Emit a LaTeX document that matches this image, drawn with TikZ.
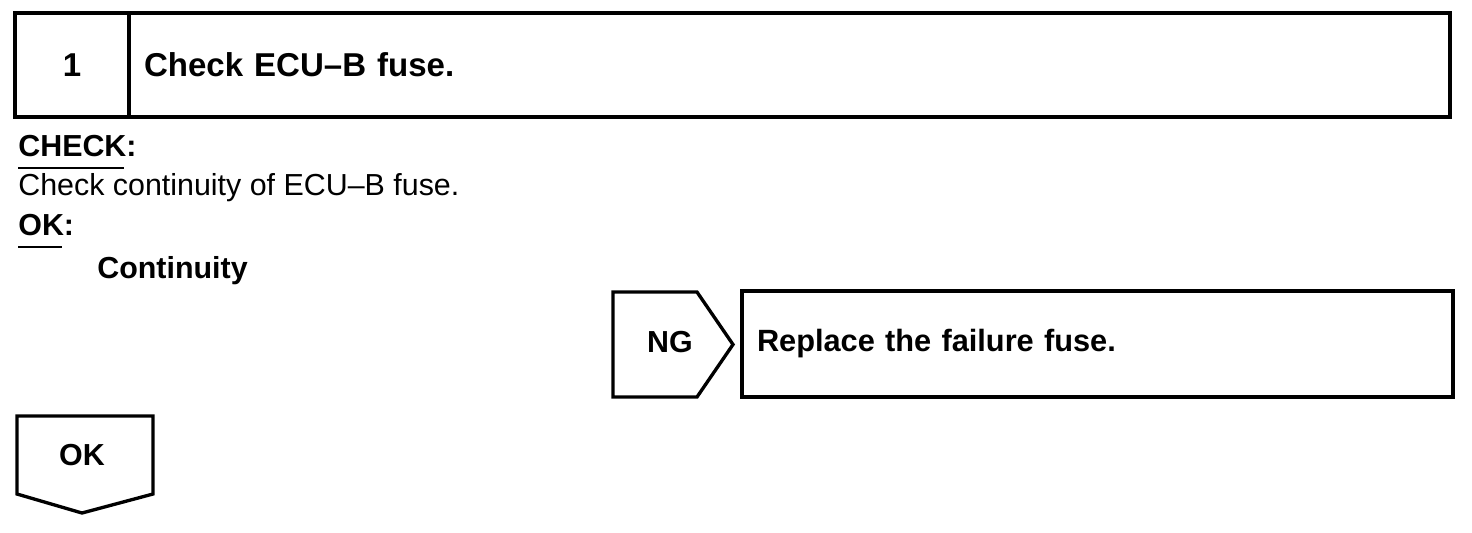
\documentclass[tikz,border=0pt]{standalone}
\usepackage{fontspec}
\setmainfont{Liberation Sans}
\usetikzlibrary{positioning}

\begin{document}
\begin{tikzpicture}[
      box/.style={rectangle, draw, line width=1.9pt, inner sep=0pt, outer sep=0pt},
      tagline/.style={draw, line width=1.9pt, line join=miter},
      uline/.style={line width=1.2pt},
      head/.style={font=\fontsize{18.8}{22}\selectfont\bfseries},
      bodytxt/.style={font=\fontsize{17.3}{20}\selectfont, inner sep=0pt, anchor=base west},
      boldtxt/.style={font=\fontsize{17.3}{20}\selectfont\bfseries, inner sep=0pt, anchor=base west}
  ]
      \useasboundingbox (0,0) rectangle (29.44,-10.64);

      % Step header
      \node[box, head, minimum width=2.28cm, minimum height=2.08cm] (stepno) at (1.44,-1.3) {1};
      \node[box, head, minimum width=26.42cm, minimum height=2.08cm, text width=25.82cm, inner xsep=0.3cm, align=left, right=0pt of stepno] (title) {Check ECU--B fuse.};

      % Check text
      \node[boldtxt] (chk) at (0.36,-3.12) {CHECK:};
      \draw[uline] ([yshift=-0.24cm]chk.base west) -- ([xshift=-0.26cm, yshift=-0.24cm]chk.base east);
      \node[bodytxt] (chktxt) at (0.36,-3.9) {Check continuity of ECU--B fuse.};
      \node[boldtxt] (okhd) at (0.36,-4.7) {OK:};
      \draw[uline] ([yshift=-0.24cm]okhd.base west) -- ([xshift=-0.25cm, yshift=-0.24cm]okhd.base east);
      \node[boldtxt] (okval) at (1.94,-5.56) {Continuity};

      % NG branch
      \draw[tagline] (12.26,-5.84) -- (13.94,-5.84) -- (14.66,-6.89) -- (13.94,-7.94) -- (12.26,-7.94) -- cycle;
      \node[boldtxt, anchor=base] (ng) at (13.4,-7.04) {NG};
      \node[box, minimum width=14.22cm, minimum height=2.12cm, text width=13.62cm, inner xsep=0.3cm, align=left, font=\fontsize{17.5}{20}\selectfont\bfseries] (repl) at (21.95,-6.88) {Replace the failure fuse.};

      % OK branch
      \draw[tagline] (0.34,-8.32) -- (3.06,-8.32) -- (3.06,-9.88) -- (1.64,-10.26) -- (0.34,-9.88) -- cycle;
      \node[boldtxt, anchor=base] (ok) at (1.64,-9.3) {OK};

  \end{tikzpicture}
\end{document}
